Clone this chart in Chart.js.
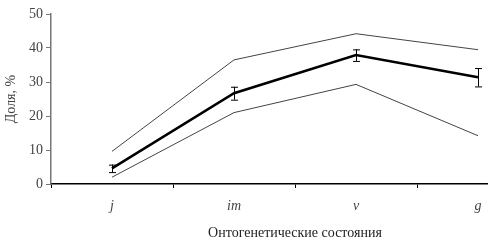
<!DOCTYPE html>
<html>
<head>
<meta charset="utf-8">
<script src="https://cdn.jsdelivr.net/npm/chart.js@4"></script>
<style>
  html, body { margin: 0; padding: 0; background: #fff; overflow: hidden; }
  #wrap { width: 560px; height: 249px; }
</style>
</head>
<body>
<div id="wrap"><canvas id="chart" width="560" height="249"></canvas></div>
<script>
// data
const categories = ['j', 'im', 'v', 'g'];
const meanValues = [4.6, 26.7, 37.9, 31.4];
const meanErrors = [1.1, 1.9, 1.7, 2.7];
const upperValues = [9.6, 36.5, 44.2, 39.5];
const lowerValues = [2.0, 21.0, 29.3, 14.2];
const yTicks = [0, 10, 20, 30, 40, 50];

// error bars on the mean line
const errorBars = {
  id: 'errorBars',
  afterDatasetsDraw(chart) {
    const ctx = chart.ctx;
    const x = chart.scales.x, y = chart.scales.y;
    ctx.save();
    ctx.strokeStyle = '#000';
    ctx.lineWidth = 1;
    meanValues.forEach((v, i) => {
      const px = x.getPixelForValue(i);
      const top = y.getPixelForValue(v + meanErrors[i]);
      const bot = y.getPixelForValue(v - meanErrors[i]);
      ctx.beginPath();
      ctx.moveTo(px + 0.5, top); ctx.lineTo(px + 0.5, bot);
      ctx.moveTo(px - 3, top + 0.5); ctx.lineTo(px + 4, top + 0.5);
      ctx.moveTo(px - 3, bot + 0.5); ctx.lineTo(px + 4, bot + 0.5);
      ctx.stroke();
    });
    ctx.restore();
  }
};

const serif = "'Liberation Serif', 'DejaVu Serif', serif";

new Chart(document.getElementById('chart').getContext('2d'), {
  type: 'line',
  data: {
    labels: categories,
    datasets: [
      { data: upperValues, borderColor: '#444', borderWidth: 1, pointRadius: 0, tension: 0 },
      { data: lowerValues, borderColor: '#444', borderWidth: 1, pointRadius: 0, tension: 0 },
      { data: meanValues, borderColor: '#000', borderWidth: 2.5, pointRadius: 0, tension: 0 }
    ]
  },
  options: {
    responsive: false,
    animation: false,
    layout: { padding: { left: 0, right: 21, top: 14, bottom: 0 } },
    plugins: { legend: { display: false }, tooltip: { enabled: false } },
    scales: {
      x: {
        offset: true,
        grid: { offset: true, drawOnChartArea: false, drawTicks: true, tickLength: 4, color: '#000' },
        border: { color: '#000', width: 1.5 },
        ticks: { color: '#444', padding: 10, font: { family: serif, size: 14, style: 'italic' } },
        title: { display: true, text: 'Онтогенетические состояния', color: '#222',
                 font: { family: serif, size: 14 }, padding: { top: 0, bottom: 7 } },
        afterFit(scale) { scale.height = 65; }
      },
      y: {
        min: 0, max: 50,
        afterBuildTicks(scale) { scale.ticks = yTicks.map(v => ({ value: v })); },
        grid: { drawOnChartArea: false, drawTicks: true, tickLength: 5, color: '#777' },
        border: { color: '#777', width: 1.5 },
        ticks: { color: '#444', padding: 3, font: { family: serif, size: 14 } },
        title: { display: true, text: 'Доля, %', color: '#444',
                 font: { family: serif, size: 14 }, padding: { top: 3, bottom: 0 } },
        afterFit(scale) { scale.width = 51; }
      }
    }
  },
  plugins: [errorBars]
});
</script>
</body>
</html>
